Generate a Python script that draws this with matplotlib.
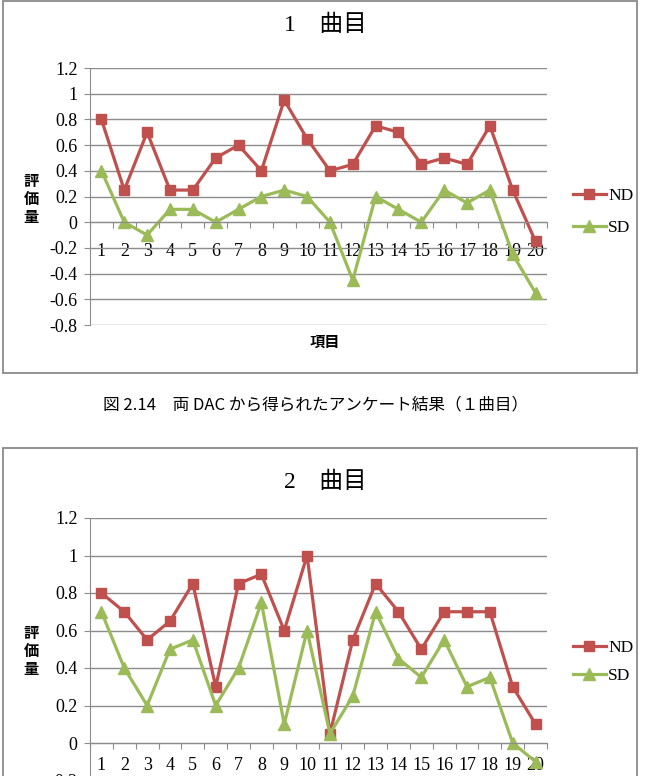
import matplotlib
matplotlib.use("Agg")
import matplotlib.pyplot as plt
import numpy as np
from matplotlib.patches import Rectangle

plt.rcParams['font.family'] = ['Liberation Serif', 'Noto Sans CJK JP', 'DejaVu Sans']

# survey results, items 1..20
items = list(range(1, 21))
item_labels = [str(i) for i in items]

song1_nd = [0.8, 0.25, 0.7, 0.25, 0.25, 0.5, 0.6, 0.4, 0.95, 0.65,
            0.4, 0.45, 0.75, 0.7, 0.45, 0.5, 0.45, 0.75, 0.25, -0.15]
song1_sd = [0.4, 0.0, -0.1, 0.1, 0.1, 0.0, 0.1, 0.2, 0.25, 0.2,
            0.0, -0.45, 0.2, 0.1, 0.0, 0.25, 0.15, 0.25, -0.25, -0.55]

song2_nd = [0.8, 0.7, 0.55, 0.65, 0.85, 0.3, 0.85, 0.9, 0.6, 1.0,
            0.05, 0.55, 0.85, 0.7, 0.5, 0.7, 0.7, 0.7, 0.3, 0.1]
song2_sd = [0.7, 0.4, 0.2, 0.5, 0.55, 0.2, 0.4, 0.75, 0.1, 0.6,
            0.05, 0.25, 0.7, 0.45, 0.35, 0.55, 0.3, 0.35, 0.0, -0.1]

titles = ['1　曲目', '2　曲目']
caption = '図 2.14　両 DAC から得られたアンケート結果（１曲目）'

RED = '#C0504D'
GREEN = '#9BBB59'
GRID = '#8C8C8C'

W, H = 645, 776
fig = plt.figure(figsize=(W / 100, H / 100), dpi=100)
fig.patch.set_facecolor('white')


def fx(px):
    return px / W


def fy(py):
    return 1 - py / H


def ylabel_text(v):
    v = round(float(v), 1) + 0.0
    return f'{v:g}'


def draw_chart(top, bottom, ymin, nd, sd, title, title_y, ylab_y, leg_y,
               leg_spacing, xpad):
    ax = fig.add_axes([fx(90), fy(bottom), (547 - 90) / W, (bottom - top) / H])
    ax.plot(items, nd, color=RED, lw=2.3, marker='s', ms=7.5, label='ND')
    ax.plot(items, sd, color=GREEN, lw=2.3, marker='^', ms=8, label='SD')
    ax.set_xlim(0.5, 20.5)
    ax.set_ylim(ymin, 1.2)
    yt = np.round(np.arange(ymin, 1.21, 0.2), 1)
    ax.set_yticks(yt, [ylabel_text(v) for v in yt])
    ax.yaxis.grid(True, color=GRID, lw=1)
    ax.set_axisbelow(True)
    ax.tick_params(axis='y', length=4, color=GRID, pad=5, labelsize=13)
    ax.set_xticks(np.arange(0.5, 21, 1), [''] * 21)
    ax.set_xticks(items, item_labels, minor=True)
    ax.tick_params(axis='x', which='major', length=4, color=GRID)
    ax.tick_params(axis='x', which='minor', length=0, pad=xpad, labelsize=13)
    for s in ['top', 'right']:
        ax.spines[s].set_visible(False)
    ax.spines['left'].set_color(GRID)
    ax.spines['bottom'].set_color(GRID)
    ax.spines['bottom'].set_position(('data', 0))
    fig.text(fx(325), fy(title_y), title, fontsize=17, ha='center', va='center')
    fig.text(fx(31), fy(ylab_y), '評\n価\n量', fontsize=11, ha='center',
             va='center', family='Noto Sans CJK JP', fontweight='bold',
             linespacing=1.15)
    ax.legend(loc='center left', bbox_to_anchor=(fx(564), fy(leg_y)),
              bbox_transform=fig.transFigure, frameon=False, borderpad=0,
              handlelength=1.9, handletextpad=0.15, labelspacing=leg_spacing,
              fontsize=12.5)
    return ax


# chart 1
fig.patches.append(Rectangle((fx(3), fy(373)), (637 - 3) / W, (373 - 1) / H,
                             transform=fig.transFigure, fill=False,
                             ec='#8A8A8A', lw=1.3))
draw_chart(68, 325, -0.8, song1_nd, song1_sd, titles[0], 25, 199, 212, 0.95, 15)
fig.text(fx(325), fy(342), '項目', fontsize=11, ha='center', va='center',
         family='Noto Sans CJK JP', fontweight='bold')

fig.text(fx(316), fy(405), caption, fontsize=12, ha='center', va='center',
         family=['Noto Sans CJK JP', 'DejaVu Sans'])

# chart 2
fig.patches.append(Rectangle((fx(3), fy(800)), (637 - 3) / W, (800 - 448) / H,
                             transform=fig.transFigure, fill=False,
                             ec='#8A8A8A', lw=1.3))
draw_chart(518, 780.5, -0.2, song2_nd, song2_sd, titles[1], 482, 651, 662, 0.65, 10)

fig.savefig('out.png', dpi=100)
